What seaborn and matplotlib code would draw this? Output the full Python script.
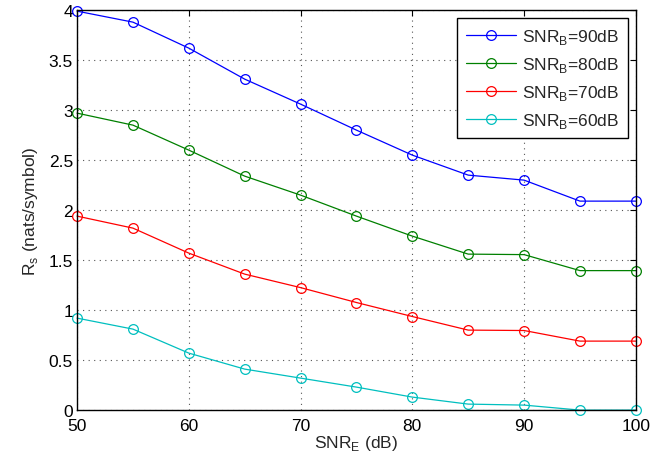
import numpy as np
import pandas as pd
import matplotlib
matplotlib.use("Agg")
import matplotlib.pyplot as plt
import seaborn as sns

snr_e = [50, 55, 60, 65, 70, 75, 80, 85, 90, 95, 100]
rs_90 = [3.99, 3.88, 3.62, 3.31, 3.06, 2.80, 2.55, 2.35, 2.30, 2.09, 2.09]
rs_80 = [2.97, 2.85, 2.60, 2.34, 2.15, 1.94, 1.74, 1.56, 1.555, 1.395, 1.395]
rs_70 = [1.94, 1.82, 1.57, 1.36, 1.225, 1.076, 0.936, 0.80, 0.796, 0.69, 0.69]
rs_60 = [0.92, 0.81, 0.57, 0.41, 0.32, 0.23, 0.13, 0.06, 0.05, 0.0, 0.0]
labels = [r"SNR$_\mathregular{B}$=90dB", r"SNR$_\mathregular{B}$=80dB",
          r"SNR$_\mathregular{B}$=70dB", r"SNR$_\mathregular{B}$=60dB"]
colors = ["#0000ff", "#008000", "#ff0000", "#00bfbf"]

df = pd.concat([
    pd.DataFrame({"SNR_E": snr_e, "Rs": vals, "series": lab})
    for vals, lab in zip([rs_90, rs_80, rs_70, rs_60], labels)
])

sns.set_style("white")
plt.rcParams["font.family"] = ["Liberation Sans", "DejaVu Sans"]
plt.rcParams["mathtext.fontset"] = "custom"
plt.rcParams["mathtext.rm"] = "Liberation Sans"

FS = 12.5
fig = plt.figure(figsize=(6.7, 4.64), dpi=100)
ax = fig.add_axes([0.115, 0.114, 0.834, 0.862])

sns.lineplot(data=df, x="SNR_E", y="Rs", hue="series", palette=colors,
             marker="o", markersize=7, markerfacecolor="none",
             markeredgewidth=0.9, linewidth=0.9, ax=ax, legend=True)
for line, c in zip(ax.lines, colors):
    line.set_markeredgecolor(c)
    line.set_markerfacecolor("none")
    line.set_clip_on(False)

ax.set_xlim(50, 100)
ax.set_ylim(0, 4)
ax.set_xticks([50, 60, 70, 80, 90, 100])
ax.set_yticks([0, 0.5, 1, 1.5, 2, 2.5, 3, 3.5, 4])
ax.set_yticklabels(["0", "0.5", "1", "1.5", "2", "2.5", "3", "3.5", "4"])
ax.grid(True, linestyle=(0, (1, 4)), color="#555555", linewidth=0.8)
for s in ax.spines.values():
    s.set_visible(True)
    s.set_color("black")
    s.set_linewidth(1.0)
ax.tick_params(direction="in", length=4, width=0.8, top=True, right=True,
               labelsize=FS, colors="black")
ax.tick_params(axis="x", pad=6)
ax.tick_params(axis="y", pad=3)
ax.set_xlabel(r"SNR$_\mathregular{E}$ (dB)", fontsize=FS, labelpad=0)
ax.set_ylabel(r"R$_\mathregular{s}$ (nats/symbol)", fontsize=FS, labelpad=6)

h, l = ax.get_legend_handles_labels()
for hh, c in zip(h, colors):
    hh.set_markerfacecolor("none")
    hh.set_markeredgecolor(c)
leg = ax.legend(h, l, loc="upper right", fontsize=FS, frameon=True,
                fancybox=False, edgecolor="black", framealpha=1,
                borderaxespad=0.45, handlelength=2.9, handletextpad=0.35,
                labelspacing=0.52, borderpad=0.5, title=None)
leg.get_frame().set_linewidth(1.0)

fig.savefig("out.png", dpi=100)
